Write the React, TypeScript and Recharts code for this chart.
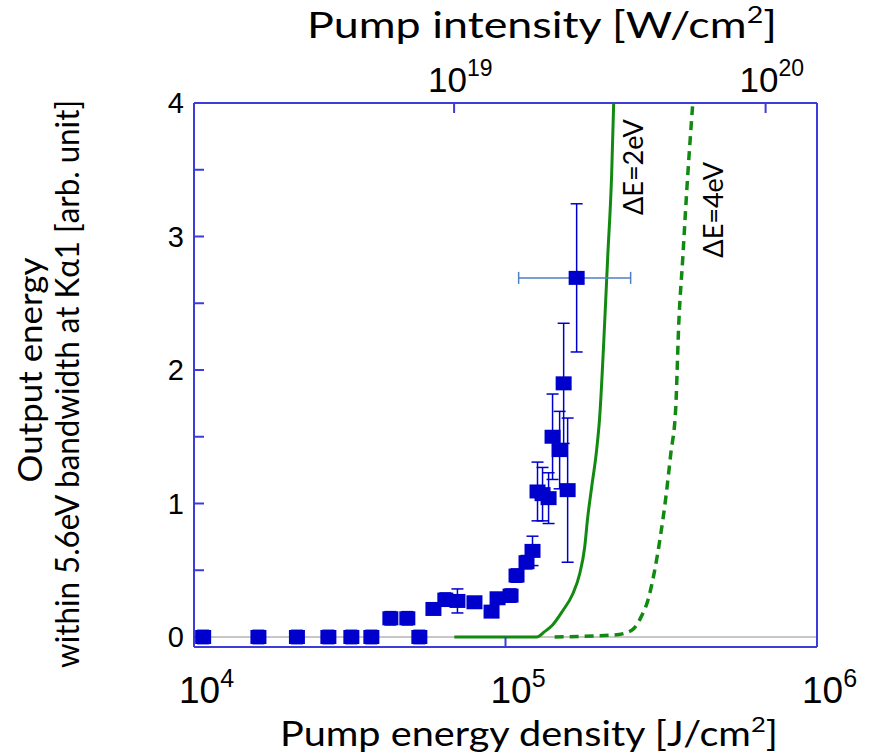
import { ComposedChart, Line, Scatter, XAxis, YAxis, ErrorBar, ReferenceLine, ReferenceDot, Label } from 'recharts'

// measured shots: pump energy density [J/cm2] vs output energy [arb. unit]
const energyDensity = [1.07e4, 1.61e4, 2.14e4, 2.7e4, 3.2e4, 3.71e4, 5.29e4, 4.27e4, 4.84e4, 5.87e4, 6.41e4, 7.01e4, 7.95e4, 9.02e4, 9.43e4, 1.038e5, 1.085e5, 1.168e5, 1.221e5, 1.267e5, 1.315e5, 1.375e5, 1.416e5, 1.492e5, 1.537e5, 1.583e5]
const outputEnergy = [0, 0, 0, 0, 0, 0, 0, 0.14, 0.14, 0.21, 0.28, 0.27, 0.26, 0.19, 0.29, 0.31, 0.46, 0.56, 0.645, 1.09, 1.07, 1.04, 1.5, 1.4, 1.9, 1.1]
const outputError = [0.05, 0.05, 0.05, 0.05, 0.05, 0.05, 0.05, 0.05, 0.05, 0.04, 0.05, 0.09, 0.04, 0.04, 0.04, 0.05, 0.05, 0.05, 0.11, 0.22, 0.2, 0.19, 0.32, 0.29, 0.45, 0.54]

// the highest shot, with its error in both directions
const peakE = 1.692e5
const peakV = 2.69
const peakErrV = 0.555
const peakErrE = [5.9e4, 8.3e4]

// simulation, dE = 2 eV
const sim2E = [6.85e4, 1.26e5, 1.335e5, 1.416e5, 1.525e5, 1.642e5, 1.729e5, 1.795e5, 1.835e5, 1.89e5, 1.961e5, 2.005e5, 2.081e5, 2.128e5, 2.192e5, 2.225e5]
const sim2V = [0, 0, 0.04, 0.09, 0.195, 0.32, 0.47, 0.67, 0.89, 1.12, 1.4, 1.64, 2.35, 2.84, 3.47, 4.0]

// simulation, dE = 4 eV
const sim4E = [1.438e5, 2.241e5, 2.542e5, 2.737e5, 2.861e5, 3.013e5, 3.15e5, 3.269e5, 3.392e5, 3.52e5, 3.6e5, 3.708e5, 3.82e5, 3.993e5]
const sim4V = [0, 0.015, 0.05, 0.16, 0.27, 0.5, 0.77, 1.04, 1.37, 1.72, 2.35, 2.84, 3.35, 4.0]

const energyTicks = [1e4, 1e5, 1e6]
const intensityTicks = [1e19, 1e20]
const outputTicks = [0, 0.5, 1, 1.5, 2, 2.5, 3, 3.5, 4]

// intensity axis is the energy axis shifted by ~10^14.165
const intensityDomain = [Math.pow(10, 18.165), Math.pow(10, 20.165)]

const shots = energyDensity.map((e, i) => ({ e, v: outputEnergy[i], err: outputError[i] }))
const peak = [{ e: peakE, v: peakV, err: peakErrV, errE: peakErrE }]
const sim2 = sim2E.map((e, i) => ({ e, v: sim2V[i] }))
const sim4 = sim4E.map((e, i) => ({ e, v: sim4V[i] }))
// invisible helper so the top axis gets its ticks
const intensityAnchor = intensityTicks.map(i => ({ i, v: 0 }))

const AXIS = '#3c3cdc'
const MARK = '#0000cd'
const GREEN = '#128a12'
const TICK_FONT = "'Liberation Sans', Arial, sans-serif"
const TITLE_FONT = "Lato, 'Noto Sans', sans-serif"

const Square = (props: any) => {
  const { cx, cy } = props
  return <rect x={cx - 8} y={cy - 7} width={16} height={14} fill={MARK} />
}

const PowerTick = (props: any) => {
  const { x, y, payload, side } = props
  const exp = Math.round(Math.log10(payload.value))
  const top = side === 'top'
  return (
    <text x={top ? x - 26 : x - 15} y={top ? y - 11 : y + 56} fontFamily={TICK_FONT} fontSize={top ? 35 : 37} fill="#000">
      10<tspan dy={-16} fontSize={top ? 23 : 25}>{exp}</tspan>
    </text>
  )
}

const OutputTick = (props: any) => {
  const { x, y, payload } = props
  if (!Number.isInteger(payload.value)) return null
  return (
    <text x={x} y={y} dy="0.36em" textAnchor="end" fontFamily={TICK_FONT} fontSize={29} fill="#000">
      {payload.value}
    </text>
  )
}

const rotatedLabel = (text: string) => (props: any) => {
  const { x, y } = props.viewBox
  return (
    <text transform={`translate(${x},${y}) rotate(-90)`} textAnchor="middle" dominantBaseline="central"
      fontFamily={TITLE_FONT} fontSize={27} fill="#000">
      {text}
    </text>
  )
}

export default function App() {
  return (
    <div style={{ position: 'absolute', left: 0, top: 0, background: '#fff' }}>
      <ComposedChart width={872} height={755} margin={{ top: 0, right: 0, bottom: 0, left: 0 }}>
        <XAxis
          dataKey="e"
          type="number"
          scale="log"
          domain={[1e4, 1e6]}
          allowDataOverflow
          ticks={energyTicks}
          height={108}
          stroke={AXIS}
          strokeWidth={2}
          tickSize={-10}
          tickMargin={10}
          tick={<PowerTick side="bottom" />}
        >
          <Label content={() => (
            <text x={529} y={746} textAnchor="middle" fontFamily={TITLE_FONT} fontSize={34} fill="#000"
              textLength={498} lengthAdjust="spacingAndGlyphs">
              Pump energy density [J/cm<tspan dy={-14} fontSize={22}>2</tspan><tspan dy={14}>]</tspan>
            </text>
          )} />
        </XAxis>
        <XAxis
          xAxisId="top"
          dataKey="i"
          orientation="top"
          type="number"
          scale="log"
          domain={intensityDomain}
          allowDataOverflow
          ticks={intensityTicks}
          height={103}
          stroke={AXIS}
          strokeWidth={2}
          tickSize={-10}
          tickMargin={10}
          tick={<PowerTick side="top" />}
        >
          <Label content={() => (
            <text x={542} y={38} textAnchor="middle" fontFamily={TITLE_FONT} fontSize={36} fill="#000"
              textLength={470} lengthAdjust="spacingAndGlyphs">
              Pump intensity [W/cm<tspan dy={-15} fontSize={23}>2</tspan><tspan dy={15}>]</tspan>
            </text>
          )} />
        </XAxis>
        <YAxis
          type="number"
          domain={[-0.075, 4]}
          allowDataOverflow
          ticks={outputTicks}
          width={194}
          stroke={AXIS}
          strokeWidth={2}
          tickSize={-10}
          tickMargin={20}
          tick={<OutputTick />}
        >
          <Label content={() => (
            <g fontFamily={TITLE_FONT} fontSize={33} fill="#000">
              <text transform="translate(42,370) rotate(-90)" textAnchor="middle" textLength={225} lengthAdjust="spacingAndGlyphs">
                Output energy
              </text>
              <text transform="translate(79,384) rotate(-90)" textAnchor="middle" textLength={568} lengthAdjust="spacingAndGlyphs">
                within 5.6eV bandwidth at Kα1 [arb. unit]
              </text>
            </g>
          )} />
        </YAxis>
        <YAxis yAxisId="right" orientation="right" type="number" domain={[0, 1]} width={55}
          stroke={AXIS} strokeWidth={2} tick={false} tickLine={false} />

        <ReferenceLine y={0} stroke="#b4b4b4" strokeWidth={1.5} />

        <Line xAxisId="top" data={intensityAnchor} dataKey="v" stroke="none" dot={false} activeDot={false}
          isAnimationActive={false} />

        <Line data={sim2} dataKey="v" type="monotone" stroke={GREEN} strokeWidth={3} dot={false} isAnimationActive={false} />
        <Line data={sim4} dataKey="v" type="monotone" stroke={GREEN} strokeWidth={3.5} strokeDasharray="9 6" dot={false} isAnimationActive={false} />

        <Scatter data={shots} dataKey="v" shape={<Square />} isAnimationActive={false}>
          <ErrorBar dataKey="err" direction="y" width={6} stroke={MARK} strokeWidth={1.5} isAnimationActive={false} />
        </Scatter>
        <Scatter data={peak} dataKey="v" shape={<Square />} isAnimationActive={false}>
          <ErrorBar dataKey="errE" direction="x" width={6} stroke="#4f7fc4" strokeWidth={1.5} isAnimationActive={false} />
          <ErrorBar dataKey="err" direction="y" width={6} stroke={MARK} strokeWidth={1.5} isAnimationActive={false} />
        </Scatter>

        <ReferenceDot x={2.56e5} y={3.52} r={0} stroke="none" fill="none" label={rotatedLabel('ΔE=2eV')} />
        <ReferenceDot x={4.63e5} y={3.2} r={0} stroke="none" fill="none" label={rotatedLabel('ΔE=4eV')} />
      </ComposedChart>
    </div>
  )
}
